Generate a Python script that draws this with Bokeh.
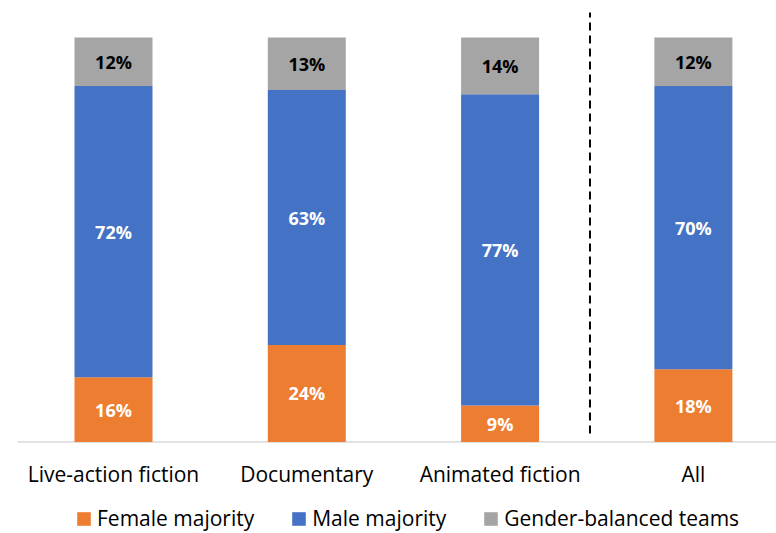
from bokeh.plotting import figure
from bokeh.models import ColumnDataSource, Range1d
from bokeh.core.properties import value
from bokeh.embed import file_html
from bokeh.resources import INLINE

categories = ["Live-action fiction", "Documentary", "Animated fiction", "All"]
female = [16, 24, 9, 18]
male = [72, 63, 77, 70]
balanced = [12, 13, 14, 12]
series_names = ["Female majority", "Male majority", "Gender-balanced teams"]
colors = ["#ED7D31", "#4472C4", "#A5A5A5"]
divider_x = 2.465

FONT = "Open Sans"

xs = list(range(len(categories)))
src = ColumnDataSource(dict(x=xs, female=female, male=male, balanced=balanced))

X0, X1 = -0.5846, 3.430
Y0, Y1 = -22.62, 109.15
p = figure(width=776, height=533, output_backend="svg", toolbar_location=None,
           x_range=Range1d(X0, X1), y_range=Range1d(Y0, Y1),
           x_axis_location=None, y_axis_location=None,
           min_border=0)
p.outline_line_color = None
p.xgrid.visible = False
p.ygrid.visible = False

# baseline (category axis line)
p.segment(x0=[-0.4966], y0=[0], x1=[X1], y1=[0], line_color="#D9D9D9", line_width=1.5)

p.vbar_stack(["female", "male", "balanced"], x="x", width=0.4035, source=src,
             color=colors, line_color=None, legend_label=series_names)

# data labels
lx, ly, lt, lc = [], [], [], []
for i in xs:
    base = 0
    for vals, col in ((female, "white"), (male, "white"), (balanced, "black")):
        v = vals[i]
        lx.append(i)
        ly.append(base + v / 2)
        lt.append(f"{v}%")
        lc.append(col)
        base += v
lsrc = ColumnDataSource(dict(x=lx, y=ly, t=lt, c=lc))
p.text(x="x", y="y", text="t", source=lsrc, text_color="c", text_font=value(FONT),
       text_font_style="bold", text_font_size="18px", text_align="center",
       text_baseline="middle")

# category labels
csrc = ColumnDataSource(dict(x=xs, y=[-7.9] * len(xs), t=categories))
p.text(x="x", y="y", text="t", source=csrc, text_color="#000000", text_font=value(FONT),
       text_font_size="21px", text_align="center", text_baseline="middle")

# divider
p.segment(x0=[divider_x], y0=[2.1], x1=[divider_x], y1=[106.2], line_color="black",
          line_width=2, line_dash="8 5")

lg = p.legend[0]
lg.orientation = "horizontal"
lg.location = (75, 1)
lg.border_line_color = None
lg.background_fill_alpha = 0
lg.padding = 0
lg.margin = 0
lg.spacing = 36
lg.glyph_width = 17
lg.glyph_height = 17
lg.label_standoff = 5
lg.label_text_font = FONT
lg.label_text_font_size = "21px"
lg.label_text_color = "#000000"
lg.label_height = 17

open("out.html", "w").write(file_html(p, INLINE))
